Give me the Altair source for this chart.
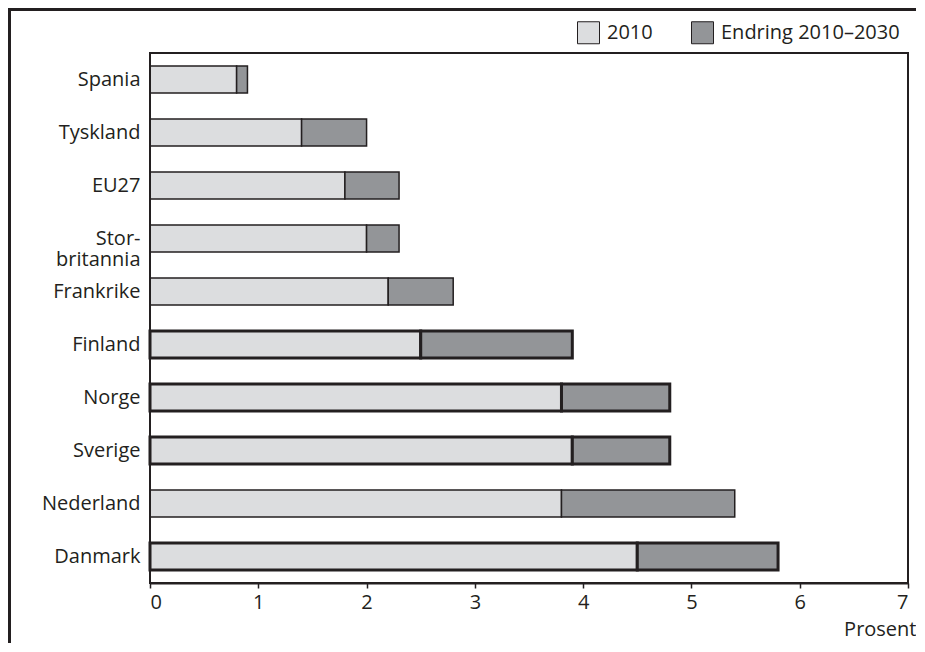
import altair as alt
import pandas as pd

countries = ["Spania", "Tyskland", "EU27", "Storbritannia", "Frankrike",
             "Finland", "Norge", "Sverige", "Nederland", "Danmark"]
v2010 = [0.8, 1.4, 1.8, 2.0, 2.2, 2.5, 3.8, 3.9, 3.8, 4.5]
endring = [0.1, 0.6, 0.5, 0.3, 0.6, 1.4, 1.0, 0.9, 1.6, 1.3]
nordic = [False, False, False, False, False, True, True, True, False, True]
series = ["2010", "Endring 2010–2030"]
x_ticks = [0, 1, 2, 3, 4, 5, 6, 7]

rows = []
for c, a, d, n in zip(countries, v2010, endring, nordic):
    sw = 3.0 if n else 1.5
    rows.append({"land": c, "serie": series[0], "start": 0.0, "slutt": a, "sw": sw})
    rows.append({"land": c, "serie": series[1], "start": a, "slutt": a + d, "sw": sw})
df = pd.DataFrame(rows)

FONT = "Open Sans"
INK = "#231f20"
FS = 20

bars = alt.Chart(df).mark_bar(stroke=INK).encode(
    y=alt.Y("land:N", sort=countries,
            scale=alt.Scale(paddingInner=0.49, paddingOuter=0.245),
            axis=alt.Axis(title=None, ticks=False, domain=False, labelPadding=10,
                          labelFontSize=FS, labelFont=FONT, labelColor=INK,
                          labelLineHeight=21,
                          labelExpr="datum.value == 'Storbritannia' ? ['Stor-', 'britannia'] : datum.value")),
    x=alt.X("start:Q", scale=alt.Scale(domain=[0, 7], nice=False),
            axis=alt.Axis(title="Prosent", values=x_ticks, grid=False, tickSize=5,
                          tickColor=INK, tickWidth=1.5, domainColor=INK, domainWidth=2,
                          labelFontSize=FS, labelFont=FONT, labelColor=INK, labelPadding=4,
                          titleFont=FONT, titleFontSize=FS, titleFontWeight="normal",
                          titleColor=INK, titleAnchor="end", titleAlign="right",
                          titleBaseline="alphabetic", titleX=766, titleY=52)),
    x2="slutt:Q",
    color=alt.Color("serie:N", sort=series,
                    scale=alt.Scale(domain=series, range=["#dcdddf", "#939598"]),
                    legend=alt.Legend(title=None, orient="none", legendX=427, legendY=-32,
                                      direction="horizontal", symbolType="square",
                                      symbolSize=484, symbolStrokeColor=INK,
                                      symbolStrokeWidth=1, labelFontSize=FS,
                                      labelFont=FONT, labelColor=INK, labelOffset=7,
                                      columnPadding=36, labelLimit=300)),
    strokeWidth=alt.StrokeWidth("sw:Q", scale=None, legend=None),
)

plot_border = alt.Chart(pd.DataFrame({"k": [0]})).mark_rect(
    fill=None, stroke=INK, strokeWidth=2
).encode(
    x=alt.value(0), x2=alt.value(758),
    y=alt.value(0), y2=alt.value(530),
)

frame = alt.Chart(pd.DataFrame({"k": [0]})).mark_rect(
    fill=None, stroke=INK, strokeWidth=3
).encode(
    x=alt.value(-140.5), x2=alt.value(900),
    y=alt.value(-43.5), y2=alt.value(700),
)

chart = alt.layer(bars, plot_border, frame).properties(
    width=758, height=530,
    autosize=alt.AutoSizeParams(type="none"),
    padding={"left": 142, "top": 45, "right": 8, "bottom": 60},
).configure(background="white", view=alt.ViewConfig(stroke=INK, strokeWidth=2))

chart.save("out.html", embed_options={"renderer": "svg", "actions": False})
